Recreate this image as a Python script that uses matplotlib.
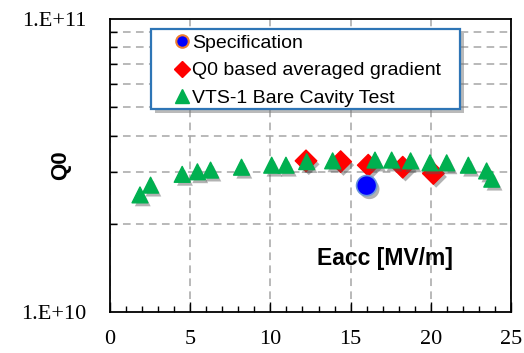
import matplotlib
matplotlib.use('Agg')
import matplotlib.pyplot as plt
import matplotlib.patheffects as pe
from matplotlib.lines import Line2D
from matplotlib.patches import Rectangle
from matplotlib.ticker import FixedLocator, NullFormatter, MultipleLocator

# VTS-1 bare cavity test
vts_eacc = [1.87, 2.53, 4.5, 5.45, 6.27, 8.2, 10.08, 10.97, 12.26, 13.88,
            16.52, 17.56, 18.74, 19.95, 20.99, 22.34, 23.48, 23.8]
vts_q0 = [2.51e10, 2.71e10, 2.95e10, 3.01e10, 3.05e10, 3.12e10, 3.17e10, 3.17e10,
          3.26e10, 3.28e10, 3.30e10, 3.30e10, 3.28e10, 3.23e10, 3.23e10, 3.17e10,
          3.03e10, 2.84e10]

# Q0 based averaged gradient
avg_eacc = [12.22, 14.38, 16.1, 18.25, 20.16]
avg_q0 = [3.28e10, 3.26e10, 3.17e10, 3.12e10, 2.97e10]

# specification
spec_eacc = [16.0]
spec_q0 = [2.7e10]

W, H = 524, 353
fig = plt.figure(figsize=(W / 100, H / 100), dpi=100)
ax = fig.add_axes([110 / W, 41 / H, 401 / W, 293 / H])

shadow = [pe.SimplePatchShadow(offset=(2, -2.5), shadow_rgbFace='#555555', alpha=0.45), pe.Normal()]

ax.scatter(avg_eacc, avg_q0, marker='D', s=120, color='#FF0000', zorder=3, path_effects=shadow)
ax.scatter(vts_eacc, vts_q0, marker='^', s=130, color='#00B050', zorder=4, path_effects=shadow)
ax.scatter(spec_eacc, spec_q0, marker='o', s=210, color='#0000FF', edgecolors='#6A96DA',
           linewidths=1.2, zorder=5, path_effects=shadow)

ax.set_yscale('log')
ax.set_xlim(0, 25)
ax.set_ylim(1e10, 1e11)

ax.xaxis.set_major_locator(MultipleLocator(5))
ax.xaxis.set_minor_locator(MultipleLocator(1))
ax.yaxis.set_major_locator(FixedLocator([1e10, 1e11]))
ax.yaxis.set_minor_locator(FixedLocator([k * 1e10 for k in range(2, 10)]))
ax.yaxis.set_minor_formatter(NullFormatter())
ax.set_yticklabels(['1.E+10', '1.E+11'])

ax.tick_params(axis='both', which='both', direction='in', top=False, right=False, width=1)
ax.tick_params(axis='x', which='major', length=7, pad=13)
ax.tick_params(axis='x', which='minor', length=4)
ax.tick_params(axis='y', which='major', length=0, pad=17)
ax.tick_params(axis='y', which='minor', length=5)
for lab in ax.get_xticklabels() + ax.get_yticklabels():
    lab.set_fontfamily('Liberation Serif')
    lab.set_fontsize(16)

ax.grid(True, axis='x', which='major', color='#A6A6A6', linestyle=(0, (5, 3.5)), linewidth=1.1)
ax.grid(True, axis='y', which='minor', color='#A6A6A6', linestyle=(0, (5, 3.5)), linewidth=1.1)
for s in ax.spines.values():
    s.set_linewidth(1.3)

fig.text(61 / W, 1 - 165 / H, 'Q0', rotation=90, ha='center', va='center',
         fontfamily='Liberation Sans', fontweight='bold', fontsize=16)
fig.text(317 / W, 1 - 258 / H, 'Eacc [MV/m]', ha='left', va='center',
         fontfamily='Liberation Sans', fontweight='bold', fontsize=16.5)

# legend box drawn by hand so the padding matches
box = Rectangle((151 / W, 1 - 109 / H), 309 / W, 80 / H, transform=fig.transFigure,
                facecolor='white', edgecolor='#2E75B6', linewidth=1.6, zorder=9,
                path_effects=[pe.SimplePatchShadow(offset=(3, -3), shadow_rgbFace='#777777', alpha=0.5),
                              pe.Normal()])
fig.add_artist(box)

handles = [
    Line2D([], [], linestyle='none', marker='o', markersize=9, markerfacecolor='#0000FF',
           markeredgecolor='#ED7D31', markeredgewidth=1.5),
    Line2D([], [], linestyle='none', marker='D', markersize=8, color='#FF0000'),
    Line2D([], [], linestyle='none', marker='^', markersize=10, color='#00B050'),
]
labels = ['Specification', 'Q0 based averaged gradient', 'VTS-1 Bare Cavity Test']
leg = fig.legend(handles, labels, loc='upper left', bbox_to_anchor=(172 / W, 1 - 34 / H),
                 bbox_transform=fig.transFigure, borderaxespad=0, frameon=False,
                 prop={'family': 'Liberation Sans', 'size': 14},
                 handlelength=1.0, handletextpad=0.05, labelspacing=0.52, borderpad=0.0)
leg.set_zorder(10)

fig.savefig('out.png', dpi=100)
